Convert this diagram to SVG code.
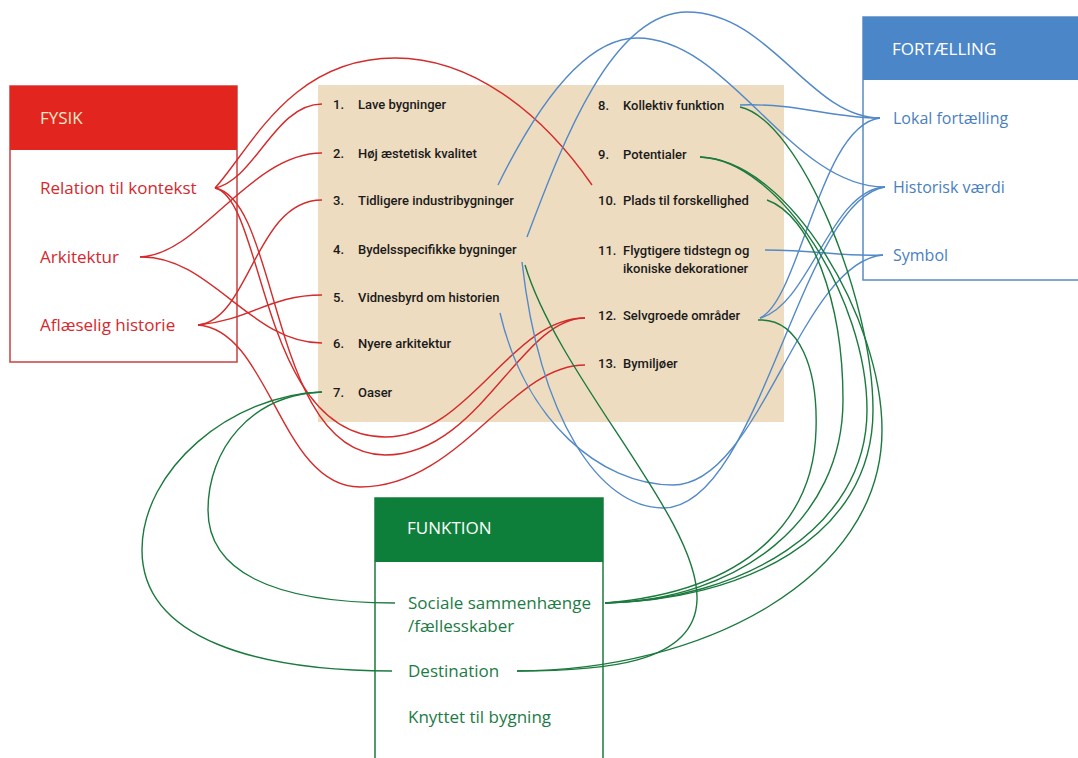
<svg xmlns="http://www.w3.org/2000/svg" width="1078" height="758" viewBox="0 0 1078 758">
<style>
.hdr{font-family:"Open Sans","Liberation Sans",sans-serif;font-size:17px}
.it{font-family:"Open Sans","Liberation Sans",sans-serif;font-size:17px}
.itb{font-family:"Open Sans","Liberation Sans",sans-serif;font-size:16px;fill:#4A7FBF}
.red{fill:#D6282E}
.grn{fill:#1D7B45}
.lst{font-family:Roboto,"Liberation Sans",sans-serif;font-size:13px;font-weight:500;fill:#1A1A1A}
.cr{fill:none;stroke:#D42B2B;stroke-width:1.4}
.cb{fill:none;stroke:#5289C8;stroke-width:1.4}
.cg{fill:none;stroke:#1B7A3E;stroke-width:1.4}
</style>
<rect width="1078" height="758" fill="#FFFFFF"/>
<g id="panel">
<rect x="318" y="85" width="466" height="337" fill="#EEDCC0"/>
</g>
<g id="fysik">
<rect x="10" y="86" width="227" height="276" fill="#FFFFFF" stroke="#C94040" stroke-width="1.5"/>
<rect x="10" y="86" width="227" height="64" fill="#E2251E"/>
<text class="hdr" x="40" y="124" fill="#F8E8C8">FYSIK</text>
</g>
<g id="fortaelling">
<rect x="863" y="17" width="230" height="263" fill="#FFFFFF" stroke="#5A8BC4" stroke-width="1.5"/>
<rect x="863" y="17" width="230" height="63" fill="#4A86C8"/>
<text class="hdr" x="892" y="55" fill="#FFFFFF">FORTÆLLING</text>
</g>
<g id="funktion">
<rect x="375" y="498" width="228" height="275" fill="#FFFFFF" stroke="#1B7A3E" stroke-width="1.5"/>
<rect x="375" y="498" width="228" height="64" fill="#0E7F3A"/>
<text class="hdr" x="407" y="534" fill="#FFFFFF">FUNKTION</text>
</g>
<g id="connectors">
<path class="cr" d="M215,188 C255,180 275,104 322,104"/>
<path class="cr" d="M215,188 C250,150 290,58 395,58 C470,58 540,110 592,185"/>
<path class="cr" d="M140,257 C200,255 250,153 322,153"/>
<path class="cr" d="M140,257 C210,255 250,343 322,343"/>
<path class="cr" d="M198,325 C250,320 255,200 322,200"/>
<path class="cr" d="M198,325 C250,320 270,295 322,295"/>
<path class="cr" d="M215,188 C265,200 260,437 385,437 C470,437 510,318 585,318"/>
<path class="cr" d="M215,188 C280,200 270,455 385,455 C480,455 520,318 585,318"/>
<path class="cr" d="M198,325 C270,330 280,487 360,487 C460,487 510,365 585,365"/>
<path class="cb" d="M740,105 C800,103 830,118 880,118"/>
<path class="cb" d="M527,237 C560,150 610,12 687,12 C770,12 810,118 880,118"/>
<path class="cb" d="M498,185 C530,120 580,38 637,38 C730,38 790,187 885,187"/>
<path class="cb" d="M765,250 C820,250 840,257 883,255"/>
<path class="cb" d="M760,318 C800,300 820,125 880,118"/>
<path class="cb" d="M760,318 C810,305 830,190 885,187"/>
<path class="cb" d="M522,262 C540,420 600,508 663,508 C760,508 800,200 885,187"/>
<path class="cb" d="M500,313 C525,420 600,485 673,485 C760,485 800,262 883,255"/>
<path class="cg" d="M322,392 C250,395 208,450 208,510 C208,570 270,603 395,603"/>
<path class="cg" d="M322,392 C230,395 142,470 142,550 C142,640 260,671 392,671"/>
<path class="cg" d="M758,320 C800,318 818,370 816,430 C814,510 760,590 605,603"/>
<path class="cg" d="M767,200 C810,215 843,300 843,400 C843,520 740,600 605,603"/>
<path class="cg" d="M700,157 C780,160 867,300 867,410 C867,530 740,600 605,603"/>
<path class="cg" d="M740,107 C800,120 873,300 873,410 C873,540 740,600 605,603"/>
<path class="cg" d="M700,157 C790,160 882,320 882,430 C882,580 700,671 517,671"/>
<path class="cg" d="M525,265 C560,380 700,520 697,600 C695,665 600,671 517,671"/>
</g>
<g id="fysik-items">
<text class="it red" x="40" y="194">Relation til kontekst</text>
<text class="it red" x="40" y="263">Arkitektur</text>
<text class="it red" x="40" y="331">Aflæselig historie</text>
</g>
<g id="fortaelling-items">
<text class="itb" x="893" y="124">Lokal fortælling</text>
<text class="itb" x="893" y="193">Historisk værdi</text>
<text class="itb" x="893" y="261">Symbol</text>
</g>
<g id="funktion-items">
<text class="it grn" x="408" y="609">Sociale sammenhænge</text>
<text class="it grn" x="408" y="632">/fællesskaber</text>
<text class="it grn" x="408" y="677">Destination</text>
<text class="it grn" x="408" y="723">Knyttet til bygning</text>
</g>
<g id="list">
<text class="lst" x="333" y="109">1.</text><text class="lst" x="358" y="109">Lave bygninger</text>
<text class="lst" x="333" y="158">2.</text><text class="lst" x="358" y="158">Høj æstetisk kvalitet</text>
<text class="lst" x="333" y="205">3.</text><text class="lst" x="358" y="205">Tidligere industribygninger</text>
<text class="lst" x="333" y="254">4.</text><text class="lst" x="358" y="254">Bydelsspecifikke bygninger</text>
<text class="lst" x="333" y="302">5.</text><text class="lst" x="358" y="302">Vidnesbyrd om historien</text>
<text class="lst" x="333" y="348">6.</text><text class="lst" x="358" y="348">Nyere arkitektur</text>
<text class="lst" x="333" y="397">7.</text><text class="lst" x="358" y="397">Oaser</text>
<text class="lst" x="598" y="110">8.</text><text class="lst" x="623" y="110">Kollektiv funktion</text>
<text class="lst" x="598" y="159">9.</text><text class="lst" x="623" y="159">Potentialer</text>
<text class="lst" x="598" y="205">10.</text><text class="lst" x="623" y="205">Plads til forskellighed</text>
<text class="lst" x="598" y="255">11.</text><text class="lst" x="623" y="255">Flygtigere tidstegn og</text>
<text class="lst" x="623" y="273">ikoniske dekorationer</text>
<text class="lst" x="598" y="320">12.</text><text class="lst" x="623" y="320">Selvgroede områder</text>
<text class="lst" x="598" y="368">13.</text><text class="lst" x="623" y="368">Bymiljøer</text>
</g>
</svg>
